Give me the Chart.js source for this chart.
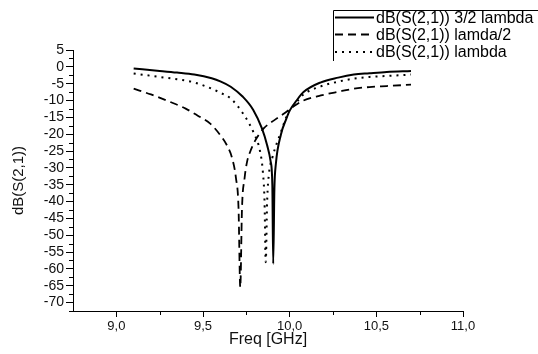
<!DOCTYPE html>
<html>
<head>
<meta charset="utf-8">
<script src="https://cdn.jsdelivr.net/npm/chart.js@4/dist/chart.umd.min.js"></script>
<style>
  html, body { margin: 0; padding: 0; background: #fff; }
  #wrap { width: 538px; height: 354px; position: relative; }
</style>
</head>
<body>
<div id="wrap"><canvas id="c" width="538" height="354"></canvas></div>
<script>
// ---- data ----
const seriesLabels = ['dB(S(2,1)) 3/2 lambda', 'dB(S(2,1)) lamda/2', 'dB(S(2,1)) lambda'];

const freqThreeHalf = [9.10, 9.25, 9.35, 9.45, 9.55, 9.60, 9.66, 9.73, 9.79, 9.84, 9.87, 9.89, 9.900, 9.905, 9.912, 9.92, 9.95, 9.98, 10.00, 10.04, 10.08, 10.18, 10.28, 10.37, 10.46, 10.56, 10.70];
const dbThreeHalf   = [-0.5, -1.2, -1.7, -2.3, -3.4, -4.3, -5.9, -8.9, -12.8, -18.3, -23.3, -28.0, -35.0, -58.5, -36.0, -29.0, -20.0, -15.5, -13.0, -10.0, -7.5, -4.6, -3.2, -2.3, -1.9, -1.5, -1.2];

const freqHalf = [9.10, 9.20, 9.30, 9.40, 9.47, 9.54, 9.60, 9.64, 9.67, 9.69, 9.705, 9.715, 9.725, 9.74, 9.755, 9.77, 9.80, 9.85, 9.91, 9.97, 10.03, 10.08, 10.18, 10.28, 10.37, 10.46, 10.56, 10.70];
const dbHalf   = [-6.5, -8.2, -10.2, -12.4, -14.5, -16.8, -20.3, -23.5, -27.5, -33.0, -42.0, -65.5, -42.0, -33.0, -28.0, -25.5, -22.0, -18.3, -15.9, -13.8, -11.5, -10.0, -8.5, -7.4, -6.5, -6.0, -5.7, -5.3];

const freqLambda = [9.10, 9.25, 9.35, 9.44, 9.55, 9.60, 9.66, 9.73, 9.79, 9.83, 9.845, 9.855, 9.862, 9.87, 9.88, 9.90, 9.95, 9.99, 10.04, 10.08, 10.18, 10.28, 10.37, 10.46, 10.56, 10.70];
const dbLambda   = [-2.0, -3.0, -3.7, -4.5, -6.5, -7.7, -9.4, -13.8, -19.3, -25.3, -31.0, -40.0, -58.0, -40.0, -32.0, -27.0, -19.3, -13.8, -10.5, -8.2, -5.8, -4.4, -3.5, -3.0, -2.7, -2.3];

const xTickValues = [9.0, 9.5, 10.0, 10.5, 11.0];
const xTickLabels = ['9,0', '9,5', '10,0', '10,5', '11,0'];
const yTickValues = [5, 0, -5, -10, -15, -20, -25, -30, -35, -40, -45, -50, -55, -60, -65, -70];
const yTickLabels = ['5', '0', '-5', '-10', '-15', '-20', '-25', '-30', '-35', '-40', '-45', '-50', '-55', '-60', '-65', '-70'];
const xMinorTicks = [9.25, 9.75, 10.25, 10.75];
const yMinorTicks = [2.5, -2.5, -7.5, -12.5, -17.5, -22.5, -27.5, -32.5, -37.5, -42.5, -47.5, -52.5, -57.5, -62.5, -67.5, -72.5];

const xTitle = 'Freq [GHz]';
const yTitle = 'dB(S(2,1))';

// ---- build chart ----
const toPts = (xs, ys) => xs.map((x, i) => ({ x: x, y: ys[i] }));
const FONT = "'Liberation Sans', Arial, sans-serif";

const datasets = [
  { label: seriesLabels[0], data: toPts(freqThreeHalf, dbThreeHalf), borderDash: [] , borderWidth: 2 },
  { label: seriesLabels[1], data: toPts(freqHalf, dbHalf), borderDash: [8, 5], borderWidth: 1.8 },
  { label: seriesLabels[2], data: toPts(freqLambda, dbLambda), borderDash: [2, 5], borderWidth: 2 }
].map(d => Object.assign({ borderColor: '#000', backgroundColor: '#000', pointRadius: 0, fill: false, cubicInterpolationMode: 'monotone' }, d));

const minorTicksPlugin = {
  id: 'minorTicks',
  afterDraw(chart) {
    const ctx = chart.ctx, xs = chart.scales.x, ys = chart.scales.y;
    ctx.save();
    ctx.strokeStyle = '#000';
    ctx.lineWidth = 1;
    ctx.beginPath();
    xMinorTicks.forEach(v => {
      const px = Math.round(xs.getPixelForValue(v)) + 0.5;
      ctx.moveTo(px, xs.top); ctx.lineTo(px, xs.top + 4);
    });
    yMinorTicks.forEach(v => {
      const py = Math.round(ys.getPixelForValue(v)) + 0.5;
      ctx.moveTo(ys.right - 4, py); ctx.lineTo(ys.right, py);
    });
    ctx.stroke();
    ctx.restore();
  }
};

const boxLegendPlugin = {
  id: 'boxLegend',
  afterDraw(chart) {
    const ctx = chart.ctx;
    const x0 = 333.5, y0 = 10.5;
    ctx.save();
    ctx.strokeStyle = '#000';
    ctx.lineWidth = 1;
    ctx.beginPath();
    ctx.moveTo(x0, 61); ctx.lineTo(x0, y0); ctx.lineTo(538, y0);
    ctx.stroke();
    const rows = [17.5, 34.5, 52];
    ctx.font = '16px ' + FONT;
    ctx.fillStyle = '#000';
    ctx.textBaseline = 'middle';
    ctx.textAlign = 'left';
    chart.data.datasets.forEach((ds, i) => {
      ctx.save();
      ctx.lineWidth = ds.borderWidth;
      ctx.setLineDash(ds.borderDash || []);
      ctx.beginPath();
      ctx.moveTo(335, rows[i]); ctx.lineTo(374, rows[i]);
      ctx.stroke();
      ctx.restore();
      ctx.fillText(ds.label, 376, rows[i] + 1);
    });
    ctx.restore();
  }
};

new Chart(document.getElementById('c'), {
  type: 'line',
  data: { datasets: datasets },
  options: {
    responsive: false,
    animation: false,
    devicePixelRatio: 1,
    layout: { padding: { left: 0, right: 75, top: 50, bottom: 0 } },
    plugins: { legend: { display: false }, tooltip: { enabled: false } },
    scales: {
      x: {
        type: 'linear',
        min: 8.75, max: 11.0,
        afterBuildTicks(scale) { scale.ticks = xTickValues.map(v => ({ value: v })); },
        afterFit(scale) { scale.height = 43; },
        ticks: {
          color: '#111',
          font: { family: FONT, size: 13 },
          padding: 2,
          maxRotation: 0,
          autoSkip: false,
          callback(value, index) { return xTickLabels[index]; }
        },
        grid: { drawOnChartArea: false, tickLength: 6, color: '#000', tickColor: '#000' },
        border: { display: true, color: '#000', width: 1 },
        title: { display: true, text: xTitle, color: '#111', font: { family: FONT, size: 16 }, padding: { top: 0, bottom: 5 } }
      },
      y: {
        type: 'linear',
        min: -72.5, max: 5,
        afterBuildTicks(scale) { scale.ticks = yTickValues.map(v => ({ value: v })); },
        afterFit(scale) { scale.width = 73; },
        ticks: {
          color: '#111',
          font: { family: FONT, size: 14 },
          padding: 2,
          autoSkip: false,
          callback(value, index) { return yTickLabels[index]; }
        },
        grid: { drawOnChartArea: false, tickLength: 7, color: '#000', tickColor: '#000' },
        border: { display: true, color: '#000', width: 1 },
        title: { display: true, text: yTitle, color: '#111', font: { family: FONT, size: 15 }, padding: { top: 10, bottom: 0 } }
      }
    }
  },
  plugins: [minorTicksPlugin, boxLegendPlugin]
});
</script>
</body>
</html>
